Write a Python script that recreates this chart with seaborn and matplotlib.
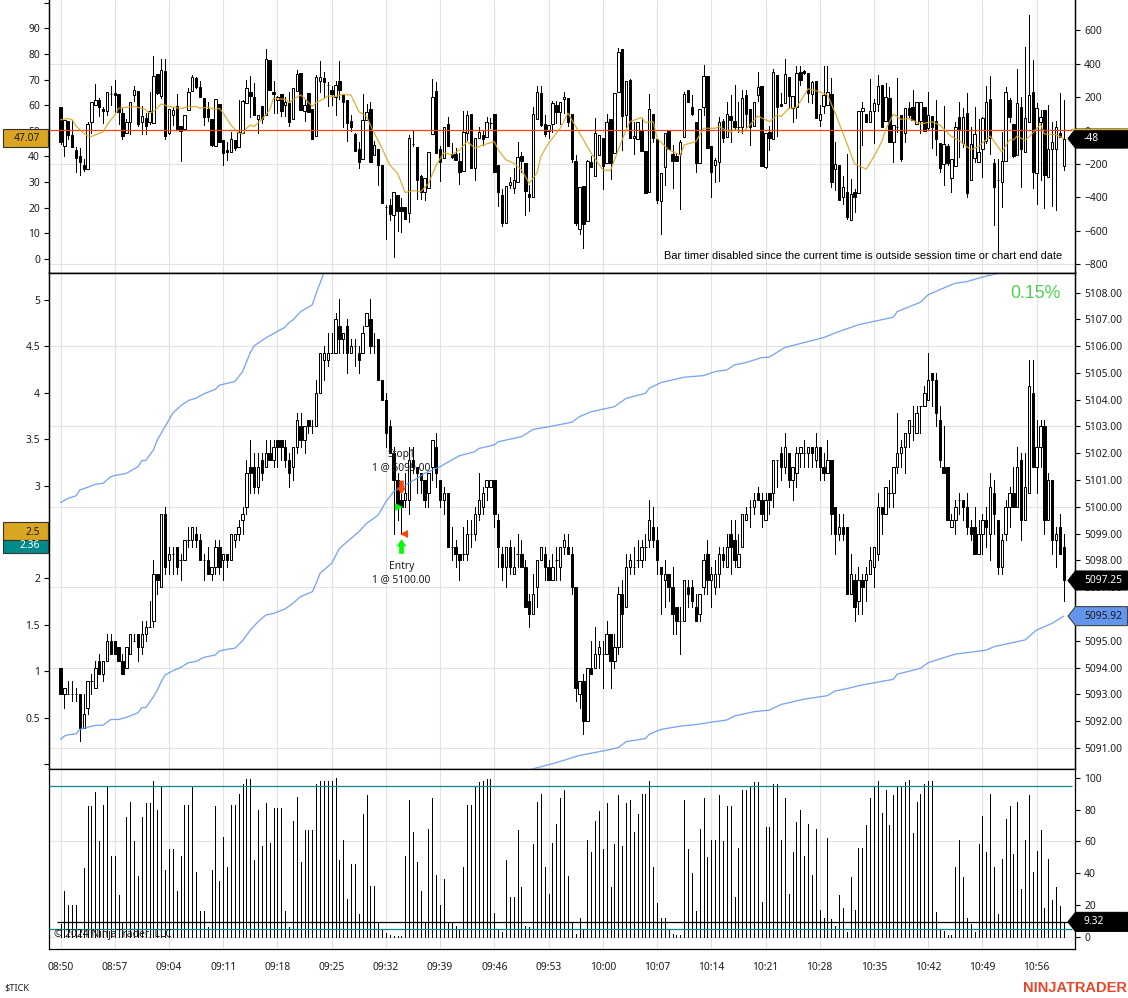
import numpy as np
import pandas as pd
import matplotlib
matplotlib.use("Agg")
import matplotlib.pyplot as plt
from matplotlib.patches import Polygon, Rectangle
import seaborn as sns

# ES price candles, 14 bars per time label
price_open = [
    5094,5093,5093,5093,5093,5093,5091.75,5092.5,5093.5,5093.25,5094.25,5093.75,5094.25,5095,
    5095,5094.75,5094.25,5094,5094.5,5095,5095.25,5094.75,5095.25,5095.5,5095.75,5097.5,5097,5099.75,
    5098,5098.25,5098.5,5098,5098,5098.75,5098.75,5099,5098.75,5098,5098,5097.5,5097.75,5098.5,
    5098,5098.25,5098,5098.75,5099,5099.5,5100,5101.5,5101.5,5100.75,5101.75,5101.5,5102,5101.75,
    5102.5,5102.5,5102.25,5101.75,5101.5,5102.25,5103,5102.5,5103.25,5103,5103,5104.25,5105.5,5105.5,
    5105.75,5105.75,5106.75,5106.25,5106.75,5105.75,5106,5105.75,5105.75,5106.75,5107,5106,5106.25,5104.75,
    5104,5103,5102,5101,5100.25,5100.25,5100.25,5101.75,5101.5,5101.25,5101,5100.5,5101.5,5102.25,
    5101,5100.25,5100.5,5098.5,5098.5,5098.25,5098.25,5098.25,5099,5099,5099.75,5100,5100.75,5100.75,
    5101,5099.5,5098.25,5097.75,5098.5,5097.5,5098.25,5098.25,5097.75,5096.5,5096,5097,5098,5098.25,
    5097.75,5097.25,5098,5097.75,5098.5,5098.5,5098.25,5097,5093,5093.5,5092,5094,5094,5094.5,
    5094.5,5094.5,5095.25,5094.25,5094.75,5096.75,5096.25,5097.75,5097.75,5098,5098,5098.5,5098.75,5099.25,
    5098.75,5097.75,5097.25,5097.5,5097,5096.25,5095.75,5095.75,5097,5097,5096.25,5096,5097,5098.25,
    5097.25,5097,5097.5,5098.25,5097.75,5099,5098.75,5097.75,5098.5,5099.5,5100,5100,5100.5,5100.25,
    5099.5,5100.5,5100.5,5101.75,5102,5101.5,5102,5101,5101.25,5102,5102,5102,5102.25,5101.75,
    5102.25,5101.5,5101.25,5101.75,5100,5099,5099.25,5099.25,5096.75,5097.25,5096.5,5097.25,5097.25,5097.5,
    5097.75,5098.25,5100,5099.75,5100.5,5100.5,5101.5,5102,5102.25,5102.75,5103,5102.75,5103.75,5103.75,
    5104,5105,5104.75,5103.25,5101.5,5101.5,5099.25,5099.5,5100.25,5100.25,5100,5099.25,5099.25,5098.25,
    5099,5099.5,5099,5100.5,5099.5,5097.75,5099,5100,5100.5,5100,5101.75,5099.5,5100.5,5104.25,
    5101.5,5102.25,5103,5099.5,5101,5098.75,5099.25,5098.5]
price_high = [
    5094,5093.25,5093.5,5093.5,5093.25,5093,5093,5093.5,5093.75,5094.25,5094.5,5094.25,5095.25,5095.25,
    5095,5094.75,5094.5,5094.75,5095.25,5095.25,5095.25,5095.75,5095.75,5096.5,5098,5097.5,5099.75,5100,
    5098.5,5098.5,5098.5,5098.25,5098.75,5099.25,5099.25,5099.25,5099,5098.25,5098.5,5097.75,5098.75,5098.75,
    5098.25,5098.25,5099,5099,5099.5,5100,5101.75,5102.5,5102,5102,5102,5102.5,5102.5,5102.5,
    5102.5,5102.5,5102.5,5102,5102.25,5103.5,5103.5,5103,5103.25,5103.25,5104.75,5105.75,5106,5106.5,
    5106.5,5107.25,5107.75,5106.5,5107,5106.25,5106.25,5106,5106.75,5107.25,5107.75,5106.5,5106.25,5104.75,
    5104.25,5103.25,5102.25,5101.25,5100.75,5101.25,5102.25,5102.25,5101.5,5101.25,5101,5101.25,5102.5,5102.75,
    5101,5100.75,5100.5,5099.25,5098.75,5098.25,5099.25,5099.5,5099.5,5100,5101.25,5100.75,5101,5101,
    5101,5099.75,5098.5,5098.5,5098.75,5098.5,5099,5098.75,5098,5096.75,5097.5,5098,5098.5,5098.5,
    5098,5098.25,5098.5,5098.5,5099,5099,5098.5,5097,5093.5,5093.75,5094,5095,5095.5,5095,
    5095,5095.75,5095.25,5095.25,5097,5097.25,5098.25,5098.25,5098.5,5098.75,5098.75,5099,5100.25,5100,
    5099.25,5097.75,5098,5097.5,5097.75,5096.25,5096.25,5097.25,5097.25,5097.25,5096.75,5096.75,5098.25,5098.75,
    5097.75,5098,5098.5,5098.5,5099,5099.5,5099.5,5099,5099.75,5100,5100.25,5100.5,5100.75,5100.5,
    5100.5,5100.5,5101.75,5101.75,5102.25,5102.75,5102,5101.5,5102.25,5102.25,5102.5,5102.25,5102.25,5102.75,
    5102.25,5102,5102.5,5101.75,5100,5099.75,5099.75,5099.25,5098.25,5097.5,5097.75,5097.5,5097.75,5098.5,
    5098.5,5100.5,5100,5100.75,5101,5101.5,5103.5,5102.5,5102.75,5103.25,5103.75,5103.75,5103.75,5104.5,
    5105.75,5105,5105,5103.75,5103,5101.5,5099.75,5100.25,5100.5,5100.25,5100.5,5099.5,5100,5099.5,
    5099.75,5100,5101.25,5101,5099.5,5099,5100.25,5100.75,5101.5,5102.25,5102,5102,5105.5,5105.5,
    5103.25,5103.25,5103.25,5101.25,5101,5099.25,5099.75,5099]
price_low = [
    5093,5092.5,5093,5092.75,5092.75,5091.25,5091.75,5092.25,5093,5093.25,5093.75,5093.5,5094.25,5094.5,
    5094.5,5094.25,5093.75,5094,5094.5,5095,5094.25,5094.5,5095,5095.5,5095.5,5096.75,5097,5097.5,
    5097.5,5097.5,5097.5,5097.25,5098,5098.5,5098.5,5098.5,5098,5097.25,5097.5,5097.25,5097.5,5097.5,
    5097.25,5097.75,5098,5098.5,5098.75,5099,5099.75,5100.5,5100.5,5100.5,5101,5101.5,5101.75,5101.5,
    5101.5,5101.75,5101.5,5100.75,5101,5102,5102.25,5102,5102.75,5102.75,5103,5104.25,5104.75,5105.25,
    5105.75,5105.75,5105.75,5105.75,5105,5105.75,5105.25,5105,5105.75,5106.75,5105.75,5105.75,5104.75,5104,
    5102.25,5102,5099,5099.5,5099,5100,5099.75,5101.25,5100.5,5100.5,5100,5100,5101,5100.75,
    5100,5099.75,5098.5,5098,5097.75,5097.25,5098,5098,5098.5,5098.75,5099.5,5099.75,5100.25,5100.75,
    5099.25,5097.75,5097.25,5097,5097.5,5097.5,5097.75,5097.75,5096.25,5095.5,5096,5096.25,5098,5097.25,
    5097.25,5097.25,5097.25,5097.25,5098.25,5098.25,5096.75,5092.75,5092.5,5091.5,5092,5093.75,5094,5094,
    5093.25,5094.5,5093.25,5094,5094.5,5094.75,5096.25,5097.5,5097.5,5097.75,5097.75,5098,5098.5,5098.5,
    5097.5,5096,5096.25,5096.5,5095.25,5095.25,5094.5,5095.75,5096.25,5096.25,5095.75,5095.75,5096.75,5096.75,
    5096.25,5096.75,5097,5097.75,5097.75,5097.5,5097.75,5097.75,5098.5,5099.5,5099.25,5099.75,5100.25,5099.25,
    5099.5,5099.75,5100,5100.75,5101,5101.25,5100.75,5100.25,5100.75,5101.5,5101.5,5101.5,5101.5,5101.5,
    5101,5101,5101.25,5099,5098.25,5098.75,5098.75,5096.75,5096.75,5095.75,5096,5096,5096.5,5097.5,
    5097,5098,5099,5099.75,5100,5100,5101.25,5101.5,5101.25,5102.25,5102.5,5102.75,5102.75,5103.75,
    5104,5103.75,5103,5101.5,5101.25,5099.5,5099.25,5099,5099.75,5099.5,5099,5098.75,5098.25,5098.25,
    5098.25,5098.5,5098,5099,5097.5,5097.5,5098.75,5099.25,5100,5100,5098.75,5099.5,5100.5,5101.5,
    5100.5,5101.5,5099,5099.5,5098.25,5097.75,5098.25,5096.5]
price_close = [
    5093,5093.25,5093,5093,5093,5091.75,5092.25,5093.5,5093.5,5094,5093.75,5094.25,5095,5094.5,
    5094.5,5094.25,5093.75,5094.75,5095.25,5095,5094.75,5095.25,5095.5,5095.5,5097.5,5097.25,5099.75,5097.75,
    5098.25,5098.25,5097.75,5098,5098.75,5098.75,5099.25,5098.75,5098,5098,5097.5,5097.75,5098.5,5097.75,
    5098.25,5098,5099,5099,5099.25,5099.75,5101.25,5101.25,5100.75,5101.5,5101.25,5102,5101.75,5102.25,
    5102.25,5102.25,5101.75,5101.25,5102.25,5103.25,5102.5,5103,5103,5103,5104.25,5105.75,5105.75,5105.75,
    5105.75,5107,5106.25,5106.5,5105.75,5106,5106,5105.5,5106.5,5107.25,5106,5106,5104.75,5104,
    5102.75,5102,5101,5100,5100,5100.5,5101.75,5101.5,5101.25,5101,5100.25,5101.25,5102.5,5101.25,
    5100.25,5100.5,5098.5,5098.5,5098.25,5098,5098.25,5099,5099,5099.75,5100.25,5100.5,5101,5101,
    5099.75,5098.5,5097.75,5098.5,5097.75,5097.75,5098.25,5097.75,5096.25,5096,5096.75,5098,5098.5,5097.75,
    5097.25,5097.75,5098,5098.5,5098.75,5098.25,5097,5093.25,5093.5,5092,5094,5093.75,5094.5,5094.75,
    5094.5,5095.25,5094.25,5094.75,5096.75,5096,5097.75,5098,5097.75,5098,5098.5,5098.5,5099.5,5098.75,
    5098,5097.5,5097.5,5097,5096,5095.75,5095.75,5097.25,5096.75,5096.5,5095.75,5096.75,5098,5097.25,
    5097.5,5097.5,5098.25,5098,5098.5,5098.5,5098,5098.25,5099.75,5099.75,5100,5100.25,5100.25,5099.75,
    5100.25,5100.25,5101.75,5101.75,5101.5,5102.25,5101,5101.5,5102,5102.25,5102,5102.25,5102,5102.25,
    5101.5,5101.25,5101.75,5099.75,5099,5099.25,5099,5096.75,5097.5,5096.25,5097.25,5097,5097.5,5098,
    5098.5,5100,5099.75,5100.75,5100.5,5101.5,5102,5102.25,5102.75,5103.25,5103,5103.5,5103.75,5104.25,
    5104.75,5104.75,5103.5,5101.75,5101.25,5099.5,5099.5,5100,5100.25,5100,5099.25,5099,5098.25,5099,
    5099.5,5099.25,5100.75,5099.75,5097.75,5098.75,5100,5100.5,5100,5101.5,5099.5,5100.75,5104.5,5101.5,
    5102.25,5103,5099.5,5101,5098.75,5099,5098.25,5097.25]

# $TICK candles
tick_open = [
    140,-90,58,-26,-116,-152,-206,-228,54,156,184,130,120,218,
    224,218,104,-16,54,216,236,50,74,50,48,340,210,358,
    -12,96,146,26,12,122,236,314,260,194,130,70,-90,158,
    -56,-116,-130,-56,-96,-12,164,230,200,72,148,92,422,230,
    184,218,156,168,68,236,344,120,224,128,-30,294,314,272,
    244,200,298,214,184,60,-20,-110,-172,64,128,-148,-110,-206,
    -458,-448,-508,-388,-460,-460,-496,-78,-100,-272,-366,-342,-22,236,
    -108,-166,38,-142,-140,-184,-240,-16,100,-222,-46,-26,-40,48,
    98,-208,-386,-552,-324,-342,-306,-150,-196,-382,-396,72,224,38,
    -4,40,152,114,188,194,98,-184,-588,-332,-540,-190,-270,-148,
    -46,-196,68,-136,234,488,92,304,-46,-52,4,-124,-370,98,
    -52,-420,-216,4,-142,-150,-142,-40,242,144,50,-196,144,326,
    -92,-206,-190,58,-36,88,58,24,20,212,130,28,216,268,
    -216,-10,-52,334,160,164,320,138,140,350,356,344,218,298,
    62,150,152,218,-230,-206,-396,-368,-538,-368,-376,120,102,54,
    118,158,272,60,194,-66,24,94,-16,134,140,40,60,140,
    14,90,58,-76,-200,-92,-286,-210,80,-76,104,-298,-166,-190,
    -112,-60,188,-196,-298,-310,-184,184,38,-148,140,-130,50,230,
    -256,54,122,-280,-110,-110,-12,-210]
tick_high = [
    140,64,58,64,-96,-106,-172,50,170,280,194,140,230,268,
    304,218,134,68,174,268,236,148,104,230,448,340,428,428,
    128,144,218,26,92,254,334,320,298,194,172,70,188,158,
    -56,-66,-6,-56,184,184,304,328,284,92,148,490,422,298,
    208,218,204,230,254,360,344,184,224,128,334,418,350,288,
    268,294,418,214,184,94,-16,-70,220,160,174,-60,-110,-206,
    -446,-412,-370,-388,-406,-460,-26,4,-100,-266,-286,-126,308,288,
    -90,24,80,-76,-106,-132,120,120,100,-46,24,4,84,74,
    98,-208,-352,-334,-276,-226,-70,-126,-196,-326,140,264,264,94,
    32,178,178,174,230,194,98,-146,-340,-332,-178,-150,78,-28,
    -46,98,68,224,494,488,296,308,50,50,74,-124,220,98,
    -52,-256,-16,4,-86,-136,-56,230,242,214,50,128,394,326,
    -92,-166,80,70,174,214,274,174,244,240,130,170,350,268,
    -16,28,368,334,224,428,320,208,388,388,364,344,294,298,
    154,384,384,314,-70,-206,-270,-140,-292,-350,120,174,102,308,
    188,332,272,284,260,32,314,94,138,174,244,170,170,140,
    230,90,184,-76,148,-82,-170,50,174,134,224,24,140,70,
    84,264,328,-172,-172,-8,260,194,38,368,200,500,694,424,
    164,124,122,154,54,58,224,184]
tick_low = [
    -80,-150,-52,-96,-246,-266,-240,-228,-12,156,90,48,94,154,
    114,40,-48,-16,-20,178,30,-20,-20,40,48,222,196,-50,
    -20,34,10,-180,12,122,236,254,204,34,56,-90,-90,-66,
    -206,-176,-130,-116,-96,-12,164,80,94,-12,44,92,240,108,
    108,90,90,28,68,236,124,60,114,-48,-30,234,204,150,
    154,96,190,24,-60,0,-120,-222,-172,64,-190,-148,-326,-436,
    -652,-536,-760,-600,-606,-528,-546,-90,-408,-408,-416,-342,-22,-136,
    -300,-166,-90,-166,-176,-322,-240,-56,-222,-296,-46,-86,-40,14,
    -246,-450,-570,-552,-346,-372,-306,-246,-506,-480,-396,72,28,-32,
    -46,-6,44,40,104,28,-186,-566,-622,-702,-540,-216,-270,-148,
    -348,-196,-288,-136,234,-116,24,-44,-142,-52,-120,-376,-370,-66,
    -436,-620,-326,-110,-346,-182,-468,-40,170,94,-246,-196,94,-102,
    -400,-306,-300,-66,-36,-66,4,-6,-16,24,-86,28,180,-210,
    -226,-116,-52,-32,148,164,138,54,74,274,340,174,164,78,
    28,108,152,-336,-356,-418,-440,-530,-538,-486,-376,-86,54,54,
    -76,120,24,60,-66,-186,-6,-180,-66,84,64,40,-16,-4,
    4,-106,-146,-250,-326,-206,-366,-210,-156,-96,-396,-298,-190,-190,
    -276,-76,-140,-566,-756,-456,-184,54,-160,-148,-336,-130,50,-346,
    -442,-296,-466,-280,-452,-476,-40,-236]
tick_close = [
    -70,64,-26,-96,-162,-186,-232,40,170,184,140,120,230,218,
    214,114,-30,50,174,242,38,86,30,120,326,226,362,-30,
    128,122,10,0,92,230,322,260,204,84,84,-86,188,-66,
    -132,-130,-52,-102,-6,178,254,208,94,92,70,428,244,220,
    202,118,172,54,254,340,124,152,114,-48,320,320,288,272,
    220,272,240,170,48,24,-120,-186,64,114,-190,-88,-204,-436,
    -458,-502,-370,-480,-480,-528,-46,-78,-296,-366,-286,-126,200,-136,
    -188,24,-90,-156,-176,-246,-10,94,-222,-46,-10,-48,50,48,
    -246,-366,-552,-334,-310,-298,-160,-182,-360,-396,98,230,34,-20,
    32,164,114,174,200,54,-170,-556,-340,-562,-184,-216,-16,-28,
    -210,50,-196,224,470,90,296,-44,-32,50,-120,-372,130,-46,
    -416,-256,-16,-110,-184,-182,-66,218,170,98,-196,128,326,-102,
    -246,-178,50,-46,98,64,24,24,194,98,24,170,260,-210,
    -16,-46,350,144,148,338,210,208,344,304,342,224,290,78,
    98,214,230,-310,-200,-418,-340,-520,-382,-400,120,134,54,118,
    164,266,24,204,-66,32,24,-170,138,94,64,170,170,-4,
    94,24,-52,-222,-82,-196,-170,24,10,80,-372,-80,-22,-128,
    74,170,-44,-340,-298,-184,230,80,-154,164,-108,74,212,-250,
    134,82,-266,-110,-70,20,-36,-48]

# lower panel oscillator
osc_values = [
    8,29,20,20,20,5,43,82,82,91,60,83,94,51,
    51,26,9,75,85,60,38,75,84,84,98,80,95,42,
    55,55,29,51,83,83,94,41,16,16,6,42,82,35,
    63,44,83,83,90,96,99,99,48,80,57,84,59,81,
    81,81,16,6,73,88,47,67,67,67,96,98,98,98,
    98,99.6,48,61,24,46,46,14,77,89,32,32,9,5,
    2.5,1,0.4,0.4,0.4,51,86,66,47,29,9,68,87,39,
    20,36,9,9,7,4,44,83,83,95,97,98,99,99,
    15,5,3,48,25,25,67,31,7,6,58,85,90,44,
    27,59,71,87,92,38,9,2,12,5,61,53,73,79,
    55,84,31,58,89,57,84,86,66,77,90,90,98,44,
    21,12,12,5,2,1,1,86,55,40,16,68,87,50,
    61,61,89,60,82,82,25,56,92,92,95,97,97,22,
    69,69,96,96,61,87,27,53,72,80,51,71,39,68,
    17,12,62,11,7,26,18,3,37.5,17,56,56,70,87,
    94,98,78,92,70,89,94,95,97,98.5,65,85,90,96,
    98,98,15.5,5,3.5,1,1,44,61,37.5,12,8,3,58,
    76,53,90,44,14,49,74,82,52,85,30,61,89,41,
    54,67,18,49,23,31,19,9.32]

# gold average on the left scale of the top panel
avg_bars = [0,2,3,4,6,7,8,9,11,12,14,15,17,19,21,22,23,24,26,28,30,31,33,35,36,38,40,41,42,44,46,47,48,49,50,52,54,55,
            58,59,60,62,63,65,66,68,69,71,73,75,76,77,79,80,81,83,85,87,89,91,93,95,97,99,101,103,105,107,109,112,113,
            115,117,119,121,123,124,126,129,131,132,135,137,140,142,144,146,147,150,151,153,154,157,160,161,164,166,169,
            170,173,174,176,178,180,183,185,186,188,190,193,195,198,200,202,205,208,210,212,213,215,217,219,222,225,227,
            230,232,235,237,240,243,245,246,247,249,251,253,254,257,259]
avg_values = [54.3,54.8,54.3,51.9,49.1,48.0,47.8,48.4,49.6,52.3,56.2,58.8,59.2,59.5,58.8,58.2,56.9,57.5,60.5,59.5,59.0,58.7,
              59.4,59.5,58.8,59.2,58.3,58.8,56.9,52.3,49.1,48.8,51.0,52.3,51.7,54.5,58.2,62.7,62.3,61.0,62.1,64.0,62.7,
              59.5,61.0,62.5,63.6,63.4,64.3,63.9,60.8,57.5,55.6,52.3,49.1,43.2,36.7,33.5,25.9,26.7,26.3,29.5,36.7,41.5,
              40.6,42.6,45.8,43.2,44.5,45.8,42.6,38.7,37.4,34.8,29.5,33.5,40.0,45.2,51.0,56.9,54.3,46.5,41.3,34.8,34.5,
              42.6,50.4,53.6,55.2,53.2,53.6,47.1,42.6,40.5,44.5,45.8,51.0,51.0,51.7,49.3,50.6,49.3,52.3,55.8,53.6,56.2,
              55.6,58.8,59.1,66.4,65.7,64.0,56.9,49.1,37.1,35.1,40.0,45.8,50.4,56.5,54.5,54.8,52.7,53.5,52.3,47.8,46.2,
              42.6,43.9,48.0,41.7,46.5,46.5,48.0,46.2,49.1,52.6,48.8,48.5,47.07]

# three blue bands on the price scale
upper_bars = [0,2,4,5,7,9,11,13,14,17,20,21,22,24,25,27,29,31,33,35,37,40,41,45,47,49,50,53,56,58,59,60,62,65,66,67,68,69]
upper_band = [5100.16,5100.32,5100.41,5100.63,5100.73,5100.84,5100.88,5101.13,5101.17,5101.25,5101.5,5101.73,5101.73,
              5102.13,5102.5,5103.0,5103.5,5103.77,5103.97,5104.06,5104.22,5104.39,5104.54,5104.68,5105.05,5105.76,
              5106.01,5106.31,5106.55,5106.71,5106.88,5106.98,5107.29,5107.54,5107.98,5108.35,5108.75,5109.0]
mid_bars = [0,1,2,4,5,7,9,11,13,15,17,20,21,22,24,25,26,27,29,31,33,35,37,40,41,43,45,47,49,51,53,55,58,60,62,65,66,67,70,72,
            75,77,79,82,84,86,89,92,94,98,101,103,107,108,112,113,119,122,126,132,134,137,143,146,151,152,155,161,166,
            169,172,174,177,181,183,187,197,201,206,215,216,222,224,228,231,234,238,243,246]
mid_band = [5091.32,5091.44,5091.49,5091.52,5091.69,5091.77,5091.84,5091.85,5092.06,5092.06,5092.14,5092.31,5092.5,5092.5,
            5092.91,5093.16,5093.47,5093.72,5093.88,5094.0,5094.18,5094.23,5094.38,5094.47,5094.62,5094.68,5094.72,5095.0,
            5095.4,5095.71,5095.96,5096.02,5096.19,5096.4,5096.65,5096.83,5097.15,5097.52,5097.89,5098.45,5098.82,5099.07,
            5099.38,5099.69,5100.19,5100.57,5100.81,5101.06,5101.25,5101.5,5101.75,5101.91,5102.06,5102.18,5102.31,5102.43,
            5102.62,5102.89,5102.99,5103.16,5103.37,5103.55,5103.74,5104.05,5104.24,5104.43,5104.64,5104.84,5104.9,5105.05,
            5105.11,5105.3,5105.39,5105.57,5105.59,5105.95,5106.32,5106.55,5106.8,5107.08,5107.29,5107.64,5107.92,5108.17,
            5108.35,5108.41,5108.58,5108.75,5108.95]
lower_bars = [122,128,134,141,144,146,151,152,155,160,165,168,172,174,179,183,186,192,198,200,202,207,215,216,222,224,227,
              231,239,241,249,251,252,256,259]
lower_band = [5090.22,5090.45,5090.72,5090.91,5091.01,5091.23,5091.35,5091.51,5091.69,5091.81,5091.89,5091.96,5092.04,
              5092.19,5092.35,5092.41,5092.62,5092.82,5092.95,5093.13,5093.18,5093.35,5093.56,5093.75,5093.97,5094.18,
              5094.32,5094.5,5094.65,5094.78,5095.03,5095.28,5095.4,5095.65,5095.92]

time_labels = ["08:50","08:57","09:04","09:11","09:18","09:25","09:32","09:39","09:46","09:53",
               "10:00","10:07","10:14","10:21","10:28","10:35","10:42","10:49","10:56"]
bars_per_label = 14

price_ticks = [5091,5092,5093,5094,5095,5096,5097,5098,5099,5100,5101,5102,5103,5104,5105,5106,5107,5108]
price_grid = [5091,5094,5097,5100,5103,5106]
price_left_ticks = [0,0.5,1,1.5,2,2.5,3,3.5,4,4.5,5]
price_left_labels = ["","0.5","1","1.5","2","2.5","3","3.5","4","4.5","5"]
tick_ticks = [-800,-600,-400,-200,0,200,400,600]
tick_grid = [-800,-200,400]
avg_ticks = [0,10,20,30,40,50,60,70,80,90,100]
avg_labels = ["0","10","20","30","40","50","60","70","80","90",""]
osc_ticks = [0,20,40,60,80,100]
osc_grid = [0,60]
osc_levels = [5,95]

last_price = 5097.25
last_lower = 5095.92
last_tick = -48
last_avg = 47.07
last_osc = 9.32
left_gold = 2.5
left_teal = 2.36
avg_mid = 50.5

GRID = "#e2e2e2"
INK = "#1c1c1c"
GOLD = "#DAA520"
TEAL = "#008B8B"
BLUE = "#6495ED"
RED = "#F0431E"
LEFT, RIGHT = 48.5, 1075.0
W, H = 1128, 998


def panel(top, bottom):
    return fig.add_axes([LEFT / W, 1 - bottom / H, (RIGHT - LEFT) / W, (bottom - top) / H])


def candles(ax, o, h, l, c):
    df = pd.DataFrame({"open": o, "high": h, "low": l, "close": c})
    df["bar"] = df.index
    up = df[df["close"] >= df["open"]]
    down = df[df["close"] < df["open"]]
    ax.vlines(df["bar"], df["low"], df["high"], color="black", lw=0.72, antialiased=False, zorder=2)
    ax.bar(up["bar"], up["close"] - up["open"], bottom=up["open"], width=0.62,
           facecolor="white", edgecolor="black", lw=0.72, zorder=3)
    ax.bar(down["bar"], down["close"] - down["open"], bottom=down["open"], width=0.62,
           facecolor="black", edgecolor="black", lw=0.72, zorder=3)


def style(ax):
    ax.set_xlim(-3.1, 261.9)
    ax.set_xticks(np.arange(len(time_labels)) * bars_per_label)
    ax.grid(axis="x", color=GRID, lw=0.8)
    ax.set_axisbelow(True)
    ax.tick_params(axis="x", length=0, labelbottom=False)
    ax.yaxis.tick_right()
    ax.tick_params(axis="y", length=3.6, width=0.8, color="black", labelsize=7.4, labelcolor=INK, pad=3)
    for s in ax.spines.values():
        s.set_color("black")
        s.set_linewidth(0.9)


def left_axis(ax, ticks, labels, ylim):
    twin = ax.twinx()
    twin.set_ylim(*ylim)
    twin.set_yticks(ticks, labels)
    twin.yaxis.tick_left()
    twin.tick_params(axis="y", length=3.6, width=0.8, color="black", labelsize=7.4, labelcolor=INK, pad=2.5)
    twin.patch.set_visible(False)
    for s in twin.spines.values():
        s.set_color("black")
        s.set_linewidth(0.9)
    # twinx moves the first axis to the left, so put it back
    ax.yaxis.tick_right()
    ax.yaxis.set_label_position("right")
    return twin


def right_tag(ax, value, text, face, color, edge):
    y = H - ax.transData.transform((0, value))[1]
    pts = [(1068, y), (1075.5, y - 9.5), (1127.5, y - 9.5), (1127.5, y + 9.5), (1075.5, y + 9.5)]
    over.add_patch(Polygon(pts, closed=True, facecolor=face, edgecolor=edge, lw=0.8))
    over.text(1084, y, text, color=color, fontsize=7.4, va="center", ha="left")
    return y


def left_box(ax, value, text, face, color, top_off, bottom_off):
    y = H - ax.transData.transform((0, value))[1]
    over.add_patch(Rectangle((2.5, y - top_off), 45, top_off + bottom_off, facecolor=face, edgecolor="#333333", lw=0.8))
    over.text(40, y, text, color=color, fontsize=7.4, va="center", ha="right")


sns.set_theme(style="white")
plt.rcParams["font.family"] = ["Noto Sans", "DejaVu Sans"]

fig = plt.figure(figsize=(W / 100, H / 100), dpi=100, facecolor="white")

# top panel: $TICK candles with average
ax_tick = panel(0, 272.5)
style(ax_tick)
ax_tick.set_ylim(-850, 782)
ax_tick.set_yticks(tick_ticks)
for v in tick_grid:
    ax_tick.axhline(v, color=GRID, lw=0.8, zorder=0)
candles(ax_tick, tick_open, tick_high, tick_low, tick_close)

ax_avg = left_axis(ax_tick, avg_ticks, avg_labels, (-5.27, 101.05))
ax_avg.hlines(avg_mid, -3.1, 261, color=RED, lw=0.9, zorder=4)
sns.lineplot(x=avg_bars, y=avg_values, ax=ax_avg, color=GOLD, lw=0.95, alpha=0.85, errorbar=None, legend=False, zorder=5)
ax_avg.set_ylabel("")
ax_avg.spines["top"].set_visible(False)
ax_tick.spines["top"].set_visible(False)

# middle panel: price candles with bands
ax_price = panel(272.5, 768.5)
style(ax_price)
ax_price.set_ylim(5090.23, 5108.75)
ax_price.set_yticks(price_ticks, ["%.2f" % p for p in price_ticks])
for v in price_grid:
    ax_price.axhline(v, color=GRID, lw=0.8, zorder=0)
candles(ax_price, price_open, price_high, price_low, price_close)
for bars, band in [(upper_bars, upper_band), (mid_bars, mid_band), (lower_bars, lower_band)]:
    sns.lineplot(x=bars, y=band, ax=ax_price, color=BLUE, lw=0.95, alpha=0.85, errorbar=None, legend=False, zorder=4)
ax_price.set_xlabel("")
ax_price.set_ylabel("")
ax_price.set_xlim(-3.1, 261.9)

ax_left = left_axis(ax_price, price_left_ticks, price_left_labels, (-0.048, 5.296))
ax_left.set_ylabel("")

arrow_up = [(-0.33, -1), (0.33, -1), (0.33, 0), (0.67, 0), (0, 1), (-0.67, 0), (-0.33, 0)]
arrow_down = [(x, -y) for x, y in arrow_up]
ax_price.plot([88], [5100.74], marker=arrow_down, ms=10, color="#FF4500", mew=0, ls="", zorder=6)
ax_price.plot([87.3], [5100.0], marker=">", ms=6, color="#00FF00", mew=0, ls="", zorder=6)
ax_price.plot([88], [5098.52], marker=arrow_up, ms=10.5, color="#00FF00", mew=0, ls="", zorder=6)
ax_price.plot([88.6], [5099.0], marker="<", ms=6, color="#FF4500", mew=0, ls="", zorder=6)
for price, label in [(5101.97, "Stop1"), (5101.45, "1 @ 5099.00"), (5097.79, "Entry"), (5097.27, "1 @ 5100.00")]:
    ax_price.text(88, price, label, ha="center", va="center", fontsize=7.4, color=INK, zorder=7)

# lower panel: oscillator stems
ax_osc = panel(768.5, 949)
style(ax_osc)
ax_osc.set_ylim(-7.74, 105.8)
ax_osc.set_yticks(osc_ticks)
for v in osc_grid:
    ax_osc.axhline(v, color=GRID, lw=0.8, zorder=0)
osc_bars = np.arange(len(osc_values))
ax_osc.vlines(osc_bars, 0, osc_values, color="black", lw=0.72, antialiased=False, zorder=2)
ax_osc.hlines(osc_levels, -3.1, 261, color=TEAL, lw=0.9, zorder=3)
ax_osc.hlines(last_osc, -1, 261, color="black", lw=0.9, zorder=3)
ax_osc.tick_params(axis="x", length=4.3, width=0.8, color="black", labelbottom=True, labelsize=7.4, labelcolor=INK, pad=5)
ax_osc.set_xticklabels(time_labels)

# overlay in pixels for tags and loose texts
over = fig.add_axes([0, 0, 1, 1], zorder=10)
over.set_xlim(0, W)
over.set_ylim(H, 0)
over.axis("off")
over.patch.set_visible(False)

y_tick = right_tag(ax_tick, last_tick, str(last_tick), "black", "white", "black")
over.plot([1071, 1127.5], [y_tick - 10, y_tick - 10], color=GOLD, lw=1)
right_tag(ax_price, last_price, "%.2f" % last_price, "black", "white", "black")
right_tag(ax_price, last_lower, "%.2f" % last_lower, BLUE, INK, "#444444")
right_tag(ax_osc, last_osc, "%.2f" % last_osc, "black", "white", "black")
left_box(ax_avg, last_avg, "%.2f" % last_avg, GOLD, INK, 9.5, 8.5)
left_box(ax_left, left_gold, "2.5", GOLD, INK, 9.7, 8)
left_box(ax_left, left_teal, "2.36", TEAL, "white", 5, 8.3)

over.text(1062, 256, "Bar timer disabled since the current time is outside session time or chart end date",
          ha="right", va="center", fontsize=7.95, color="black", family="Liberation Sans")
over.text(1061, 293, "0.15%", ha="right", va="center", fontsize=12.8, color="#4FD24F", family="Liberation Sans")
over.text(54, 934, "\u00a9 2024 NinjaTrader, LLC", ha="left", va="center", fontsize=7.4, color=INK)
over.text(4, 988, "$TICK", ha="left", va="center", fontsize=6.6, color=INK)
over.text(1127, 988, "NINJATRADER", ha="right", va="center", fontsize=10.5, color="#E8472B",
          fontweight="bold", family="Liberation Sans")

fig.savefig("out.png", dpi=100)
